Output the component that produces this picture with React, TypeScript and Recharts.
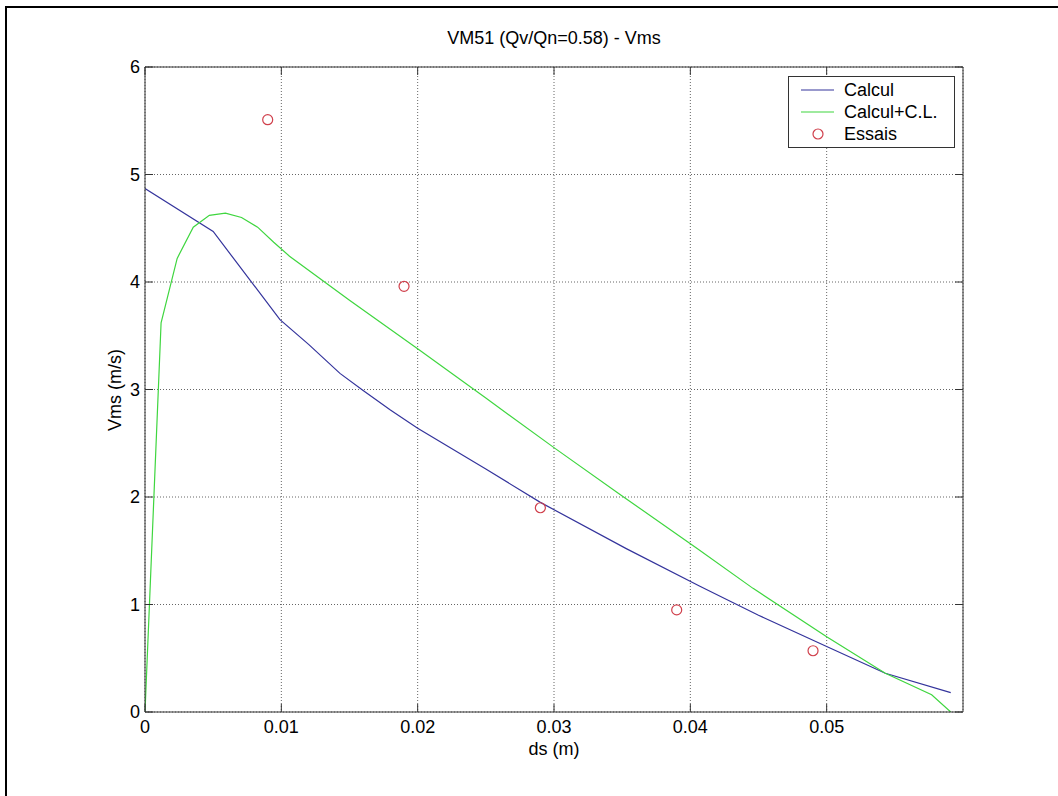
import React from "react";
import { ComposedChart, Line, Scatter, XAxis, YAxis, CartesianGrid } from "recharts";

// Calcul (blue)
const calculX = [0, 0.005, 0.0099, 0.012, 0.0143, 0.016, 0.018, 0.02, 0.025, 0.029, 0.0353, 0.0407, 0.045, 0.05, 0.0543, 0.0591];
const calculV = [4.87, 4.47, 3.65, 3.42, 3.15, 2.99, 2.81, 2.64, 2.26, 1.95, 1.52, 1.17, 0.9, 0.61, 0.36, 0.18];

// Calcul+C.L. (green)
const clX = [0, 0.00118, 0.00236, 0.00354, 0.00472, 0.0059, 0.00708, 0.00826, 0.00944, 0.0106, 0.015, 0.0201, 0.025, 0.0301, 0.035, 0.0405, 0.0446, 0.05, 0.0543, 0.0577, 0.0591];
const clV = [0, 3.62, 4.22, 4.51, 4.62, 4.64, 4.6, 4.51, 4.37, 4.24, 3.83, 3.37, 2.92, 2.45, 2.01, 1.52, 1.15, 0.7, 0.36, 0.16, 0];

// Essais (red circles)
const essaisX = [0.009, 0.019, 0.029, 0.039, 0.049];
const essaisV = [5.51, 3.96, 1.9, 0.95, 0.57];

const xTicks = [0, 0.01, 0.02, 0.03, 0.04, 0.05];
const yTicks = [0, 1, 2, 3, 4, 5, 6];

const calculData = calculX.map((x, i) => ({ x, v: calculV[i] }));
const clData = clX.map((x, i) => ({ x, v: clV[i] }));
const essaisData = essaisX.map((x, i) => ({ x, v: essaisV[i] }));

const FONT = "'Liberation Sans', Arial, sans-serif";
const BLUE = "#34349c";
const GREEN = "#3fd63f";
const RED = "#d0404c";
const AXIS = "#333";

// tick helpers: x/y arrive at the axis line because tickSize and tickMargin are 0
const BottomTick = ({ x, y, payload }: any) => (
  <g>
    <line x1={x} y1={y} x2={x} y2={y - 8} stroke={AXIS} />
    <text x={x} y={y + 21} textAnchor="middle" fontSize={18} fontFamily={FONT} fill="#000">
      {String(payload.value)}
    </text>
  </g>
);

const LeftTick = ({ x, y, payload }: any) => (
  <g>
    <line x1={x} y1={y} x2={x + 8} y2={y} stroke={AXIS} />
    <text x={x - 5} y={y + 6} textAnchor="end" fontSize={18} fontFamily={FONT} fill="#000">
      {String(payload.value)}
    </text>
  </g>
);

const TopTick = ({ x, y }: any) => <line x1={x} y1={y} x2={x} y2={y + 8} stroke={AXIS} />;
const RightTick = ({ x, y }: any) => <line x1={x} y1={y} x2={x - 8} y2={y} stroke={AXIS} />;

const Circle = ({ cx, cy }: any) => <circle cx={cx} cy={cy} r={5} fill="none" stroke={RED} strokeWidth={1.2} />;

export default function App() {
  return (
    <div style={{ position: "absolute", left: 0, top: 0, width: 1058, height: 796, background: "#fff", overflow: "hidden", fontFamily: FONT }}>
      <div style={{ position: "absolute", left: 5, top: 6, width: 1100, height: 900, borderLeft: "2px solid #000", borderTop: "2px solid #000" }} />
      <div style={{ position: "absolute", left: 354, width: 400, top: 27, textAlign: "center", fontSize: 18, lineHeight: "22px" }}>
        VM51 (Qv/Qn=0.58) - Vms
      </div>
      <div style={{ position: "absolute", left: 354, width: 400, top: 738, textAlign: "center", fontSize: 18, lineHeight: "22px" }}>
        ds (m)
      </div>
      <div
        style={{
          position: "absolute",
          left: 115 - 100,
          top: 390 - 11,
          width: 200,
          textAlign: "center",
          fontSize: 18,
          lineHeight: "22px",
          transform: "rotate(-90deg)",
        }}
      >
        Vms (m/s)
      </div>

      <ComposedChart width={1058} height={796} margin={{ top: 57, right: 85, bottom: 54, left: 105 }} style={{ position: "absolute", left: 0, top: 0 }}>
        <CartesianGrid stroke="#666" strokeDasharray="1 2" />
        <XAxis dataKey="x" type="number" domain={[0, 0.06]} ticks={xTicks} height={30} tickSize={0} tickMargin={0} tickLine={false} tick={<BottomTick />} axisLine={{ stroke: AXIS }} allowDataOverflow />
        <XAxis xAxisId="top" orientation="top" dataKey="x" type="number" domain={[0, 0.06]} ticks={xTicks} height={10} tickSize={0} tickMargin={0} tickLine={false} tick={<TopTick />} axisLine={{ stroke: AXIS }} allowDataOverflow />
        <YAxis type="number" domain={[0, 6]} ticks={yTicks} width={40} tickSize={0} tickMargin={0} tickLine={false} tick={<LeftTick />} axisLine={{ stroke: AXIS }} allowDataOverflow />
        <YAxis yAxisId="right" orientation="right" type="number" domain={[0, 6]} ticks={yTicks} width={10} tickSize={0} tickMargin={0} tickLine={false} tick={<RightTick />} axisLine={{ stroke: AXIS }} allowDataOverflow />
        <Line data={calculData} dataKey="v" type="linear" stroke={BLUE} strokeWidth={1.2} dot={false} isAnimationActive={false} />
        <Line data={clData} dataKey="v" type="linear" stroke={GREEN} strokeWidth={1.2} dot={false} isAnimationActive={false} />
        <Scatter data={essaisData} dataKey="v" shape={<Circle />} isAnimationActive={false} />
      </ComposedChart>

      <div style={{ position: "absolute", left: 788, top: 76, width: 165, height: 70, border: "1px solid #333", background: "#fff", fontSize: 18 }}>
        <svg width={50} height={70} style={{ position: "absolute", left: 0, top: 0 }}>
          <line x1={12} y1={13} x2={45} y2={13} stroke={BLUE} strokeWidth={1.2} />
          <line x1={12} y1={35} x2={45} y2={35} stroke={GREEN} strokeWidth={1.2} />
          <circle cx={29} cy={57} r={5} fill="none" stroke={RED} strokeWidth={1.2} />
        </svg>
        <div style={{ position: "absolute", left: 55, top: 2, lineHeight: "22px" }}>
          Calcul
          <br />
          Calcul+C.L.
          <br />
          Essais
        </div>
      </div>
    </div>
  );
}
